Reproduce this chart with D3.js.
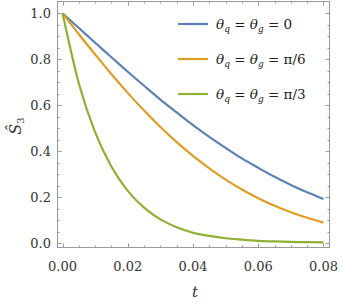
<!DOCTYPE html>
<html><head><meta charset="utf-8">
<script src="https://cdn.jsdelivr.net/npm/d3@7"></script>
<style>body{margin:0;background:#fff}svg{display:block}</style>
</head><body>
<svg id="c" width="343" height="305"></svg>
<script>
const tValues = [0,0.005,0.01,0.015,0.02,0.025,0.03,0.035,0.04,0.045,0.05,0.055,0.06,0.065,0.07,0.075,0.08];
const seriesTheta0 = [1,0.936,0.872,0.809,0.746,0.685,0.625,0.569,0.514,0.463,0.415,0.369,0.328,0.289,0.254,0.222,0.193];
const seriesThetaPi6 = [1,0.909,0.821,0.735,0.654,0.577,0.506,0.440,0.380,0.326,0.277,0.234,0.196,0.163,0.135,0.111,0.090];
const seriesThetaPi3 = [1,0.695,0.482,0.333,0.228,0.155,0.104,0.070,0.046,0.032,0.022,0.016,0.011,0.008,0.006,0.005,0.004];
const seriesNames = ["0","π/6","π/3"];
const xTicks = [0,0.02,0.04,0.06,0.08];
const yTicks = [0,0.2,0.4,0.6,0.8,1.0];
const colors = ["#5E81B5","#E19C24","#8FB032"];

const svg = d3.select("#c");
const L=57, R=330, T=1, B=248;
const x = d3.scaleLinear().domain([-0.0017,0.0820]).range([L,R]);
const y = d3.scaleLinear().domain([-0.0204,1.0535]).range([B,T]);
const frameColor = "#999";
const FONT = "DejaVu Serif";

svg.append("rect").attr("x",L+0.5).attr("y",T+0.5).attr("width",R-L-1).attr("height",B-T-1)
  .attr("fill","none").attr("stroke",frameColor).attr("stroke-width",1);

const xMinor = d3.range(0,0.0801,0.005);
const yMinor = d3.range(0,1.0001,0.05);
const isMajor = (v, arr) => arr.some(a => Math.abs(a-v) < 1e-9);
const tg = svg.append("g").attr("stroke",frameColor).attr("stroke-width",1);
xMinor.forEach(v => {
  const len = isMajor(v,xTicks) ? 4.5 : 2.5;
  const px = Math.round(x(v))+0.5;
  tg.append("line").attr("x1",px).attr("x2",px).attr("y1",B).attr("y2",B-len);
  tg.append("line").attr("x1",px).attr("x2",px).attr("y1",T).attr("y2",T+len);
});
yMinor.forEach(v => {
  const len = isMajor(v,yTicks) ? 4.5 : 2.5;
  const py = Math.round(y(v))+0.5;
  tg.append("line").attr("y1",py).attr("y2",py).attr("x1",L).attr("x2",L+len);
  tg.append("line").attr("y1",py).attr("y2",py).attr("x1",R).attr("x2",R-len);
});

svg.append("g").selectAll("text").data(xTicks).join("text")
  .attr("x",d=>x(d)).attr("y",271).attr("text-anchor","middle")
  .style("font-family",FONT).attr("font-size",13).attr("fill","#333")
  .text(d=>d3.format(".2f")(d));
svg.append("g").selectAll("text").data(yTicks).join("text")
  .attr("x",51).attr("y",d=>y(d)+4.5).attr("text-anchor","end")
  .style("font-family",FONT).attr("font-size",13).attr("fill","#333")
  .text(d=>d3.format(".1f")(d));

svg.append("text").attr("x",x(0.04)+2).attr("y",297).attr("text-anchor","middle")
  .style("font-family",FONT).attr("font-size",15).attr("font-style","italic").attr("fill","#333").text("t");
const yl = svg.append("text").attr("transform","translate(21,126) rotate(-90)").attr("text-anchor","middle")
  .style("font-family",FONT).attr("font-size",16).attr("fill","#333");
yl.append("tspan").attr("font-style","italic").text("Ŝ");
yl.append("tspan").attr("font-size",10).attr("dy",3).text("3");

const all = [seriesTheta0, seriesThetaPi6, seriesThetaPi3];
const line = d3.line().x((d,i)=>x(tValues[i])).y(d=>y(d)).curve(d3.curveMonotoneX);
svg.append("g").selectAll("path").data(all).join("path")
  .attr("d",line).attr("fill","none").attr("stroke",(d,i)=>colors[i])
  .attr("stroke-width",2.2).attr("stroke-linejoin","round");

const legY = [24,59,94];
seriesNames.forEach((n,i)=>{
  svg.append("line").attr("x1",178).attr("x2",208).attr("y1",legY[i]).attr("y2",legY[i])
    .attr("stroke",colors[i]).attr("stroke-width",2.2);
  const t = svg.append("text").attr("x",216).attr("y",legY[i]+5)
    .style("font-family",FONT).attr("font-size",13.5).attr("fill","#222");
  t.append("tspan").attr("font-style","italic").text("θ");
  t.append("tspan").attr("font-style","italic").attr("font-size",9).attr("dy",3).text("q");
  t.append("tspan").attr("dy",-3).text(" = ");
  t.append("tspan").attr("font-style","italic").text("θ");
  t.append("tspan").attr("font-style","italic").attr("font-size",9).attr("dy",3).text("g");
  t.append("tspan").attr("dy",-3).text(" = " + n);
});
</script>
</body></html>
